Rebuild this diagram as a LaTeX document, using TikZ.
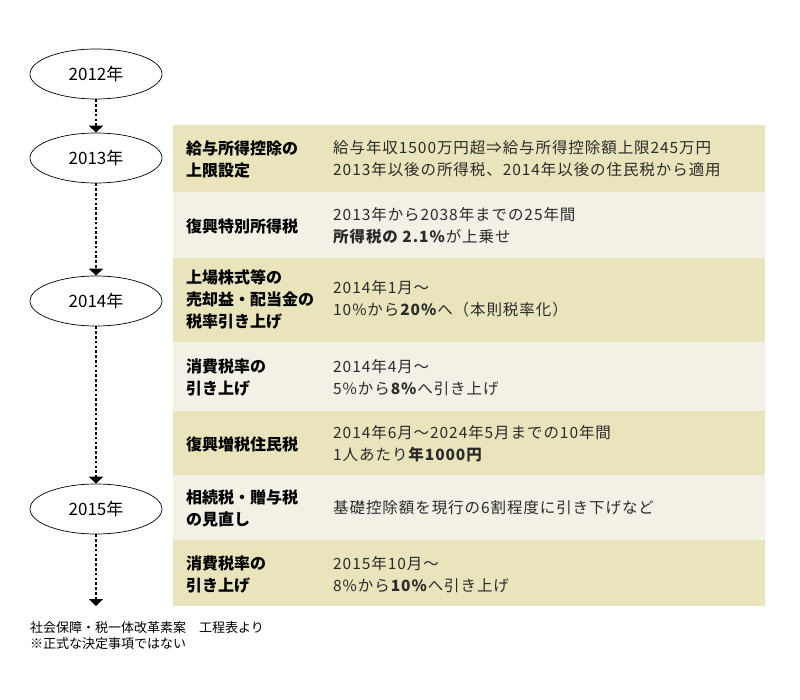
\documentclass[tikz,border=0pt]{standalone}
\usepackage{fontspec}
\setmainfont{Noto Sans CJK JP}
\newfontfamily\descfont[LetterSpace=6]{Noto Sans CJK JP}
\usetikzlibrary{shapes.geometric,arrows.meta}
\definecolor{rowdark}{HTML}{EAE4BC}
\definecolor{rowlight}{HTML}{F3F1E6}
\definecolor{desctext}{HTML}{2A2A2A}
\tikzset{
    year/.style={draw, ellipse, line width=0.7pt, minimum width=132pt, minimum height=50pt,
        inner sep=0pt, font=\fontsize{17}{20}\selectfont},
    flow/.style={line width=2.6pt, dash pattern=on 2.6pt off 2.2pt,
        -{Triangle[width=14pt,length=7pt]}},
    band/.style={rectangle, minimum width=592pt, inner sep=0pt, anchor=north west},
    taxname/.style={anchor=west, align=left, inner sep=0pt,
        font=\fontsize{16}{22}\selectfont\bfseries},
    taxdesc/.style={anchor=west, align=left, inner sep=0pt, text=desctext,
        font=\descfont\fontsize{15.5}{22}\selectfont},
}
\begin{document}
\begin{tikzpicture}[x=1pt,y=-1pt]
    \newcommand{\namex}{186}
    \newcommand{\descx}{333}
    \useasboundingbox (0,0) rectangle (800,700);
    % years
    \node[year] (y2012) at (96,74) {2012年};
    \node[year] (y2013) at (96,158) {2013年};
    \node[year] (y2014) at (96,301) {2014年};
    \node[year] (y2015) at (96,509) {2015年};
    \coordinate (yend) at (96,606);
    \draw[flow] (y2012) -- (y2013);
    \draw[flow] (y2013) -- (y2014);
    \draw[flow] (y2014) -- (y2015);
    \draw[flow] (y2015) -- (yend);
    % rows
    \node[band, fill=rowdark, minimum height=67pt] (r1) at (173,125) {};
    \node[band, fill=rowlight, minimum height=66pt] (r2) at (173,192) {};
    \node[band, fill=rowdark, minimum height=84pt] (r3) at (173,258) {};
    \node[band, fill=rowlight, minimum height=69pt] (r4) at (173,342) {};
    \node[band, fill=rowdark, minimum height=64pt] (r5) at (173,411) {};
    \node[band, fill=rowlight, minimum height=65pt] (r6) at (173,475) {};
    \node[band, fill=rowdark, minimum height=66pt] (r7) at (173,540) {};
    \node[taxname] (n1) at (\namex,159) {給与所得控除の\\上限設定};
    \node[taxdesc] (d1) at (\descx,159) {給与年収1500万円超⇒給与所得控除額上限245万円\\2013年以後の所得税、2014年以後の住民税から適用};
    \node[taxname] (n2) at (\namex,226) {復興特別所得税};
    \node[taxdesc] (d2) at (\descx,226) {2013年から2038年までの25年間\\\textbf{所得税の 2.1\%}が上乗せ};
    \node[taxname] (n3) at (\namex,299) {上場株式等の\\売却益・配当金の\\税率引き上げ};
    \node[taxdesc] (d3) at (\descx,299) {2014年1月〜\\10\%から\textbf{20\%}へ（本則税率化）};
    \node[taxname] (n4) at (\namex,378) {消費税率の\\引き上げ};
    \node[taxdesc] (d4) at (\descx,378) {2014年4月〜\\5\%から\textbf{8\%}へ引き上げ};
    \node[taxname] (n5) at (\namex,444) {復興増税住民税};
    \node[taxdesc] (d5) at (\descx,444) {2014年6月〜2024年5月までの10年間\\1人あたり\textbf{年1000円}};
    \node[taxname] (n6) at (\namex,508) {相続税・贈与税\\の見直し};
    \node[taxdesc] (d6) at (\descx,508) {基礎控除額を現行の6割程度に引き下げなど};
    \node[taxname] (n7) at (\namex,575) {消費税率の\\引き上げ};
    \node[taxdesc] (d7) at (\descx,575) {2015年10月〜\\8\%から\textbf{10\%}へ引き上げ};
    % source
    \node[anchor=west, align=left, inner sep=0pt, font=\fontsize{13}{15.5}\selectfont] (src) at (30,635.5)
        {社会保障・税一体改革素案　工程表より\\※正式な決定事項ではない};
\end{tikzpicture}
\end{document}
